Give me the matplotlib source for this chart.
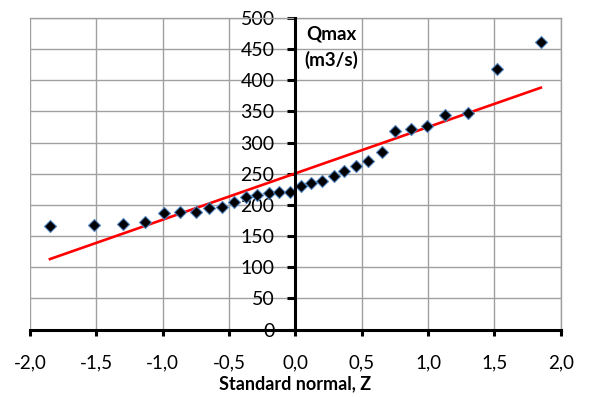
import matplotlib.pyplot as plt
from matplotlib.ticker import FuncFormatter, MultipleLocator

# standard normal variate
z = [-1.85, -1.52, -1.30, -1.13, -0.99, -0.87, -0.75, -0.65, -0.55, -0.46,
     -0.37, -0.29, -0.20, -0.12, -0.04, 0.04, 0.12, 0.20, 0.29, 0.37,
     0.46, 0.55, 0.65, 0.75, 0.87, 0.99, 1.13, 1.30, 1.52, 1.85]
# Qmax (m3/s)
qmax = [166, 168, 169, 173, 187, 188, 189, 195, 196, 204,
        212, 216, 219, 220, 220, 231, 235, 239, 246, 255,
        263, 271, 284, 318, 321, 327, 344, 348, 418, 461]
# red reference line end points
line_z = [-1.85, 1.85]
line_q = [113, 388]

plt.rcParams['font.family'] = ['Lato', 'DejaVu Sans']

fig = plt.figure(figsize=(5.89, 3.97), dpi=100)
ax = fig.add_axes([0.051, 0.170, 0.901, 0.785])

ax.plot(line_z, line_q, color='#ff0000', linewidth=1.9, zorder=3)
ax.plot(z, qmax, linestyle='none', marker='D', markersize=6.5,
        markerfacecolor='black', markeredgecolor='#4f81bd', markeredgewidth=0.8, zorder=4)

ax.set_xlim(-2, 2)
ax.set_ylim(0, 500)
ax.xaxis.set_major_locator(MultipleLocator(0.5))
ax.yaxis.set_major_locator(MultipleLocator(50))
ax.xaxis.set_major_formatter(FuncFormatter(lambda v, p: f"{v:.1f}".replace('.', ',')))
ax.yaxis.set_major_formatter(FuncFormatter(lambda v, p: f"{v:.0f}"))
ax.grid(True, color='#a0a0a0', linewidth=1.0, zorder=0)
ax.set_axisbelow(True)

ax.spines['left'].set_position(('data', 0))
ax.spines['bottom'].set_position(('data', 0))
ax.spines['left'].set_linewidth(2.2)
ax.spines['bottom'].set_linewidth(2.2)
ax.spines['left'].set_zorder(5)
ax.spines['bottom'].set_zorder(5)
for s in ['top', 'right']:
    ax.spines[s].set_color('#a0a0a0')
    ax.spines[s].set_linewidth(1.0)

ax.tick_params(axis='y', direction='out', length=6, width=2.2, pad=9, labelsize=14)
ax.tick_params(axis='x', direction='out', length=4, width=2.2, pad=14, labelsize=13.5)

ax.text(0.27, 453, 'Qmax\n(m3/s)', ha='center', va='center', fontsize=13.5,
        fontweight='bold', linespacing=1.6)
ax.set_xlabel('Standard normal, Z', fontsize=13, fontweight='bold', labelpad=3)

fig.savefig('out.png', dpi=100)
